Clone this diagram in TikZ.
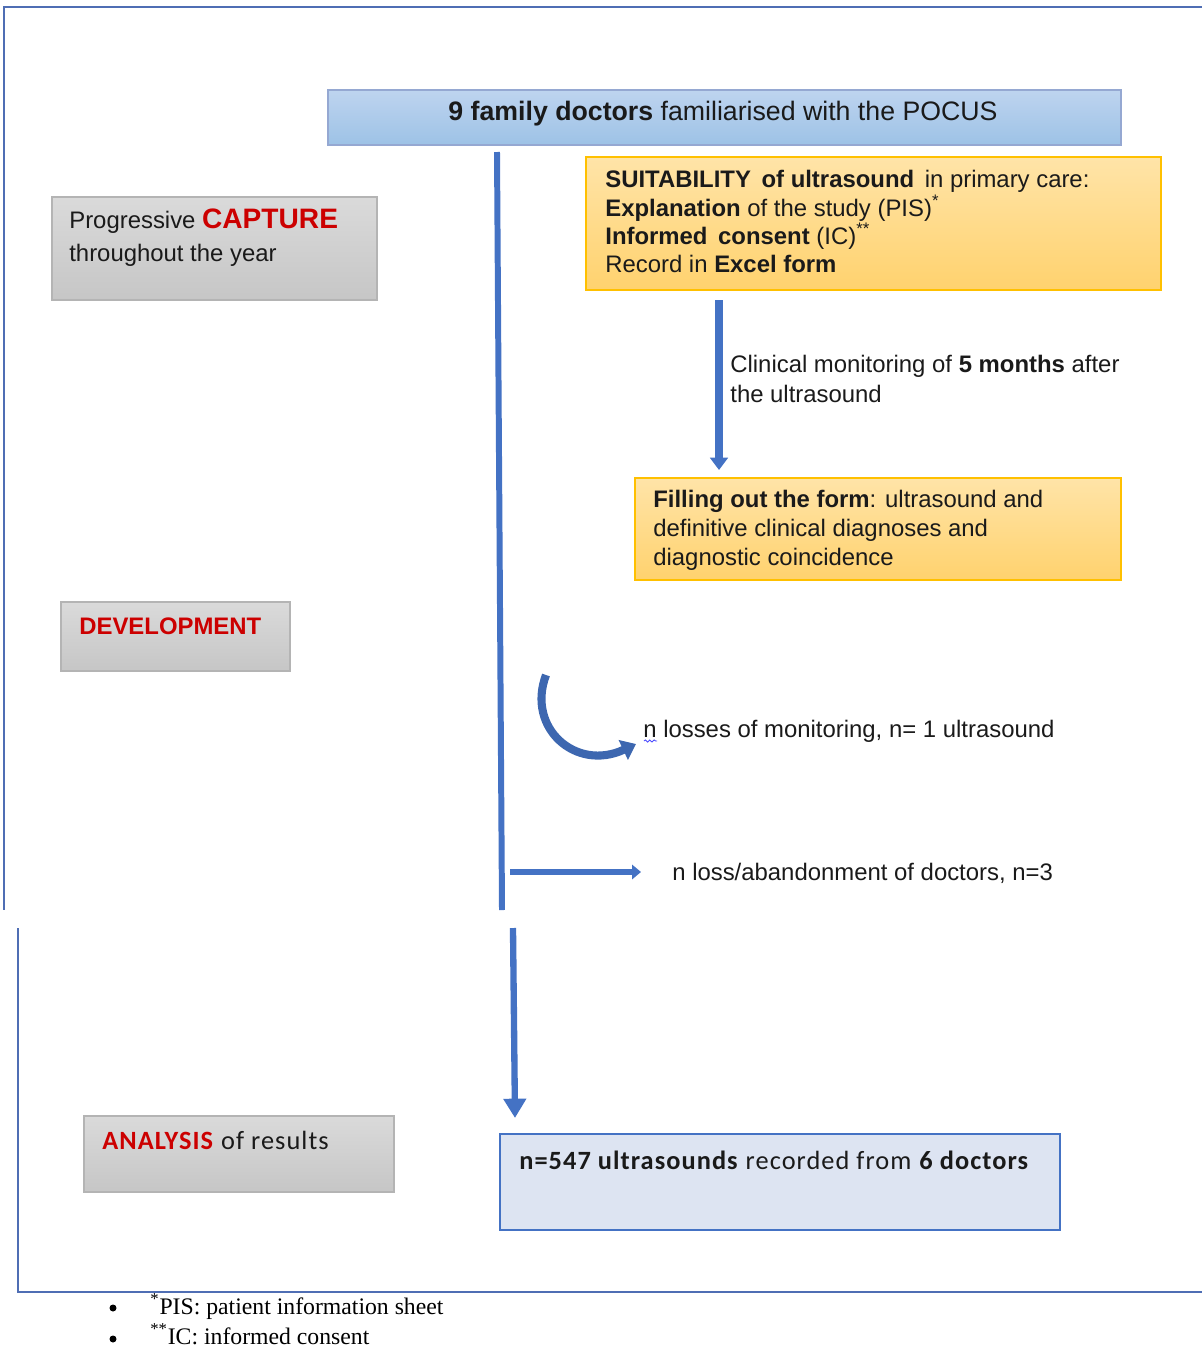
\documentclass[tikz,border=0pt]{standalone}
\usepackage{fontspec}
\setmainfont{Liberation Sans}
\newfontfamily\calibrif[LetterSpace=4]{Carlito}
\newfontfamily\seriff{Liberation Serif}
\usetikzlibrary{arrows.meta,decorations.pathmorphing}
\definecolor{framec}{HTML}{4F6EB4}
\definecolor{lineblue}{HTML}{4472C4}
\definecolor{redc}{HTML}{CC0000}
\definecolor{txtc}{HTML}{1A1A1A}
\begin{document}
\begin{tikzpicture}[x=0.02cm,y=-0.02cm,
  frame/.style={draw=framec,line width=0.9pt},
  bluebox/.style={draw=framec!60!white,line width=0.8pt,top color={rgb,255:red,190;green,212;blue,239},bottom color={rgb,255:red,157;green,194;blue,230},inner sep=0pt},
  orangebox/.style={draw={rgb,255:red,255;green,192;blue,0},line width=0.9pt,top color={rgb,255:red,255;green,228;blue,168},bottom color={rgb,255:red,255;green,210;blue,110},inner sep=0pt},
  graybox/.style={draw={rgb,255:red,180;green,180;blue,180},line width=0.8pt,top color={rgb,255:red,218;green,218;blue,218},bottom color={rgb,255:red,198;green,198;blue,198},inner sep=0pt},
  resbox/.style={draw=lineblue,line width=0.9pt,fill={rgb,255:red,221;green,228;blue,242},inner sep=0pt},
  txt/.style={anchor=base west,inner sep=0pt,text=txtc,font=\fontsize{13.6}{16}\selectfont},
  cal/.style={anchor=base west,inner sep=0pt,text=txtc,font=\calibrif\fontsize{15}{18}\selectfont},
  foot/.style={anchor=base west,inner sep=0pt,text=black,font=\seriff\fontsize{13.5}{16}\selectfont},
  bulletdot/.style={circle,fill=black,inner sep=0pt,minimum size=0.14cm},
  mainline/.style={draw=lineblue,line width=3.4pt},
]
\useasboundingbox (0,0) rectangle (1202,1349);

% outer frames
\draw[frame] (1202,7) -- (4,7) -- (4,910);
\draw[frame] (18,928) -- (18,1292) -- (1202,1292);

% boxes
\node[bluebox,minimum width=15.86cm,minimum height=1.1cm] (top) at (724.5,117.5) {};
\node[anchor=base,inner sep=0pt,text=txtc,font=\fontsize{15.2}{18}\selectfont] (toptxt) at (723,120) {\textbf{9 family doctors} familiarised with the POCUS};

\node[orangebox,minimum width=11.5cm,minimum height=2.66cm] (suit) at (873.5,223.5) {};
\node[txt] (s1) at (605,187) {\textbf{SUITABILITY\, of ultrasound}\, in primary care:};
\node[txt] (s2) at (605,216) {\textbf{Explanation} of the study (PIS)\textsuperscript{*}};
\node[txt] (s3) at (605,244) {\textbf{Informed\, consent} (IC)\textsuperscript{**}};
\node[txt] (s4) at (605,272) {Record in \textbf{Excel form}};

\node[orangebox,minimum width=9.72cm,minimum height=2.04cm] (fill) at (878,529) {};
\node[txt] (f1) at (653,507) {\textbf{Filling out the form}: ultrasound and};
\node[txt] (f2) at (653,536) {definitive clinical diagnoses and};
\node[txt] (f3) at (653,565) {diagnostic coincidence};

\node[txt] (c1) at (730,372) {Clinical monitoring of \textbf{5 months} after};
\node[txt] (c2) at (730,402) {the ultrasound};

\node[graybox,minimum width=6.5cm,minimum height=2.06cm] (cap) at (214.5,248.5) {};
\node[txt] (g1) at (69,228) {Progressive {\fontsize{16}{18}\selectfont\textcolor{redc}{\textbf{CAPTURE}}}};
\node[txt] (g2) at (69,261) {throughout the year};

\node[graybox,minimum width=4.58cm,minimum height=1.38cm] (dev) at (175.5,636.5) {};
\node[txt,text=redc] (d1) at (79,634) {\textbf{DEVELOPMENT}};

\node[graybox,minimum width=6.2cm,minimum height=1.52cm] (ana) at (239,1154) {};
\node[cal] (a1) at (102,1149) {\textcolor{redc}{\textbf{ANALYSIS}} of results};

\node[resbox,minimum width=11.2cm,minimum height=1.92cm] (res) at (780,1182) {};
\node[cal] (r1) at (519,1169) {\textbf{n=547 ultrasounds} recorded from \textbf{6 doctors}};

% side texts
\node[txt] (loss1) at (643,737) {n losses of monitoring, n= 1 ultrasound};
\draw[blue!70!white,line width=0.5pt,decorate,decoration={snake,amplitude=0.6pt,segment length=2.5pt}] (644,741) -- (657,741);
\node[txt] (loss2) at (672,880) {n loss/abandonment of doctors, n=3};

% connectors
\coordinate (v1) at (497,152);
\coordinate (v2) at (502,910);
\coordinate (v3) at (513,928);
\coordinate (v4) at (515,1118);
\draw[mainline] (v1) -- (v2);
\draw[draw=lineblue,line width=3.6pt,-{Triangle[length=11pt,width=12.5pt]}] (v3) -- (v4);

\coordinate (d1a) at (719,300);
\coordinate (d1b) at (719,470);
\draw[draw=lineblue,line width=4pt,-{Triangle[length=7pt,width=10pt]}] (d1a) -- (d1b);

\coordinate (h1) at (510,872);
\coordinate (h2) at (641,872);
\draw[draw=lineblue,line width=3.4pt,-{Triangle[length=5pt,width=8pt]}] (h1) -- (h2);

\coordinate (ca1) at (546,675);
\coordinate (ca2) at (636,744);
\draw[draw=lineblue!90!black,line width=4.6pt,-{Triangle[length=8pt,width=12pt]}] (ca1) .. controls (526,728) and (576,772) .. (ca2);

% footnotes
\node[bulletdot] (b1) at (113,1308) {};
\node[foot] (n1) at (150,1314) {\textsuperscript{*}PIS: patient information sheet};
\node[bulletdot] (b2) at (113,1339) {};
\node[foot] (n2) at (150,1344) {\textsuperscript{**}IC: informed consent};
\end{tikzpicture}
\end{document}
